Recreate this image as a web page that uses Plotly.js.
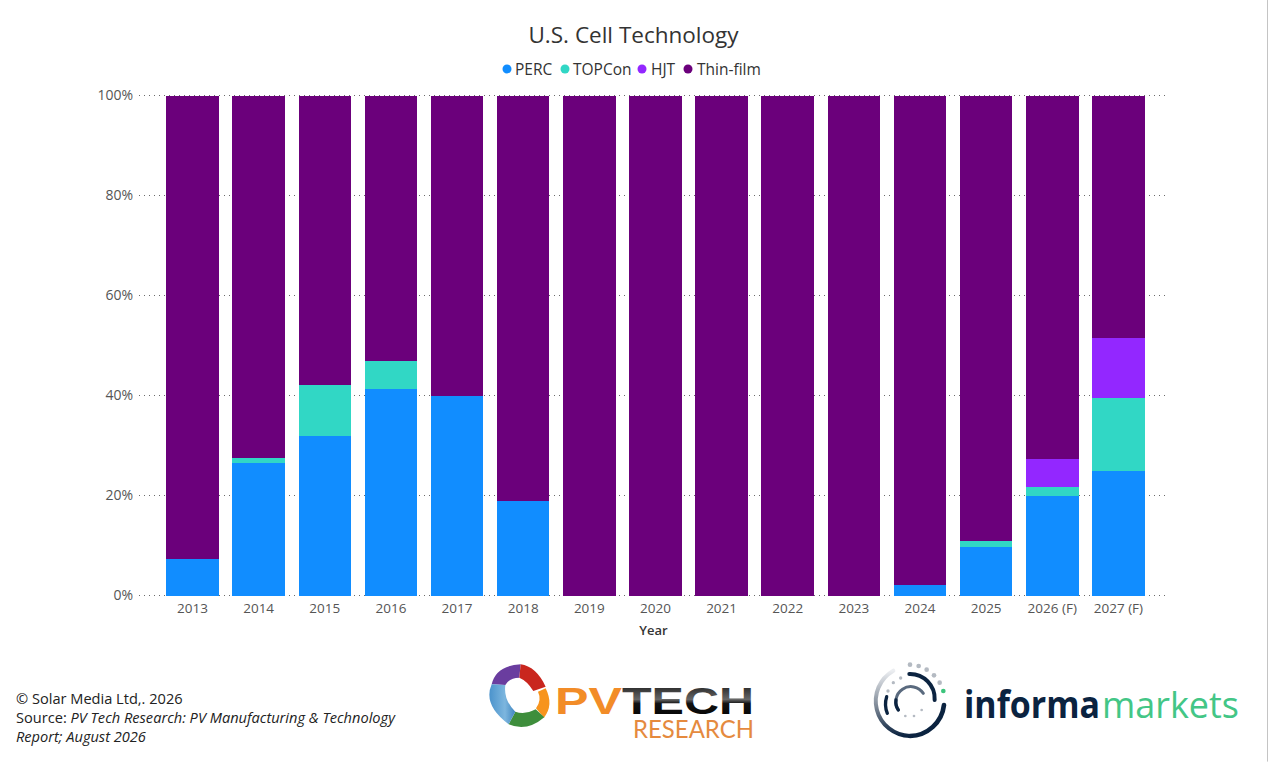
<!DOCTYPE html>
<html>
<head>
<meta charset="utf-8">
<script src="https://cdn.plot.ly/plotly-3.0.1.min.js"></script>
<style>
html,body{margin:0;padding:0;background:#fff;width:1268px;height:762px;overflow:hidden}
#chart{position:absolute;left:0;top:0;width:1268px;height:762px}
#logos{position:absolute;left:0;top:0;pointer-events:none}
</style>
</head>
<body>
<div id="chart"></div>
<svg id="logos" width="1268" height="762" viewBox="0 0 1268 762">
  <defs>
    <linearGradient id="tech" x1="0" y1="0" x2="0" y2="1">
      <stop offset="0" stop-color="#111"/><stop offset=".45" stop-color="#666"/><stop offset=".55" stop-color="#111"/><stop offset="1" stop-color="#000"/>
    </linearGradient>
    <linearGradient id="greyarc" x1="0" y1="1" x2="0" y2="0">
      <stop offset="0" stop-color="#0b2340"/><stop offset=".45" stop-color="#7d8896"/><stop offset="1" stop-color="#eceef1"/>
    </linearGradient>
    <linearGradient id="bluefade" x1="0" y1="0" x2="1" y2="0">
      <stop offset="0" stop-color="#4b93cc"/><stop offset=".6" stop-color="#7db6de"/><stop offset="1" stop-color="#3f86c0"/>
    </linearGradient>
  </defs>
  <g transform="translate(480 655) scale(.3333)">
    <path fill="#6a3d9f" d="M35 88 Q48 32 122 28 L118 68 Q88 68 76 90 Z"/>
    <path fill="#c9261e" d="M122 28 Q168 34 197 95 L160 108 Q142 78 118 68 Z"/>
    <path fill="#f7941d" d="M197 100 Q222 150 192 188 L168 160 Q186 135 174 110 Z"/>
    <path fill="#3e8e3c" d="M86 208 Q140 232 193 187 L167 163 Q135 180 106 170 Z"/>
    <path fill="url(#bluefade)" d="M35 88 Q8 150 86 208 L106 170 Q70 135 76 90 Z"/>
  </g>
  <text x="555" y="714" font-family="Liberation Sans" font-weight="700" font-size="36" fill="#f28c28" textLength="67" lengthAdjust="spacingAndGlyphs">PV</text>
  <text x="622" y="714" font-family="Liberation Sans" font-weight="700" font-size="36" fill="url(#tech)" textLength="132" lengthAdjust="spacingAndGlyphs">TECH</text>
  <text x="633" y="738" font-family="Lato" font-weight="400" font-size="25" fill="#e58a3e" textLength="121" lengthAdjust="spacingAndGlyphs">RESEARCH</text>

  <g transform="translate(860 650) scale(.3333)">
    <g fill="none" stroke-linecap="round">
      <path d="M150 258 A105 105 0 0 0 252 165" stroke="#0b2340" stroke-width="14"/>
      <path d="M150 258 A105 105 0 0 1 100 62" stroke="url(#greyarc)" stroke-width="12"/>
      <path d="M148 72 A74 74 0 0 1 224 150" stroke="#0b2340" stroke-width="12"/>
      <path d="M82 190 A74 74 0 0 1 80 140" stroke="#0b2340" stroke-width="10"/>
      <path d="M115 180 A42 42 0 0 1 190 130" stroke="#5a6a7e" stroke-width="9"/>
      <path d="M115 180 A42 42 0 0 1 108 150" stroke="#0b2340" stroke-width="10"/>
    </g>
    <g fill="#b4bac2">
      <circle cx="150" cy="44" r="7"/><circle cx="176" cy="48" r="7"/><circle cx="200" cy="59" r="7"/><circle cx="222" cy="76" r="7"/><circle cx="239" cy="98" r="7"/>
      <circle cx="122" cy="84" r="5"/><circle cx="100" cy="98" r="5"/><circle cx="84" cy="123" r="5"/>
      <circle cx="136" cy="198" r="4"/><circle cx="162" cy="198" r="4"/><circle cx="185" cy="180" r="4"/>
    </g>
    <circle cx="250" cy="123" r="7" fill="#3cc47c"/>
  </g>
  <text x="964" y="718" font-family="Open Sans" font-weight="700" font-size="37" fill="#0b2340" textLength="136" lengthAdjust="spacingAndGlyphs">informa</text>
  <text x="1102" y="718" font-family="Open Sans" font-weight="400" font-size="37" fill="#43c686" textLength="137" lengthAdjust="spacingAndGlyphs">markets</text>
</svg>
<script>
var years = ["2013","2014","2015","2016","2017","2018","2019","2020","2021","2022","2023","2024","2025","2026 (F)","2027 (F)"];
var perc     = [7.4,26.6,32.0,41.3,39.9,19.0,0,0,0,0,0,2.2,9.7,20.0,24.9];
var topcon   = [0,1.0,10.1,5.7,0,0,0,0,0,0,0,0,1.3,1.7,14.6];
var hjt      = [0,0,0,0,0,0,0,0,0,0,0,0,0,5.6,12.0];
var thinfilm = [92.6,72.4,57.9,53.0,60.1,81.0,100,100,100,100,100,97.8,89.0,72.7,48.5];
var seriesNames = ["PERC","TOPCon","HJT","Thin-film"];
var seriesColors = ["#118DFF","#31D7C5","#9327FF","#6B007B"];
var seriesValues = [perc,topcon,hjt,thinfilm];
var tickValues = [0,20,40,60,80,100];
var tickLabels = ["0%","20%","40%","60%","80%","100%"];
var footerLines = ["© Solar Media Ltd,. 2026","Source: <i>PV Tech Research: PV Manufacturing &amp; Technology</i>","<i>Report; August 2026</i>"];

var W=1268,H=762,L=139,R=1168,T=93,B=598.3;
function px(x){return (x-L)/(R-L);}
function py(y){return (B-y)/(B-T);}

var traces = seriesNames.map(function(n,i){
  return {type:"bar",name:n,x:years,y:seriesValues[i],width:0.794,marker:{color:seriesColors[i],line:{width:0}},showlegend:false,
    hovertemplate:"%{x}<br>"+n+": %{y}%<extra></extra>"};
});

var legendMarkerX=[507,565,642,688], legendTextX=[515,573,651,697];
var annotations=[], shapes=[];
seriesNames.forEach(function(n,i){
  annotations.push({xref:"paper",yref:"paper",x:px(legendTextX[i]),y:py(68.5),xanchor:"left",yanchor:"middle",xshift:-2,text:n,showarrow:false,
    font:{family:"Open Sans",size:15.5,color:"#333"}});
  shapes.push({type:"circle",xref:"paper",yref:"paper",x0:px(legendMarkerX[i]-4.5),x1:px(legendMarkerX[i]+4.5),y0:py(73.5),y1:py(64.5),
    fillcolor:seriesColors[i],line:{width:0}});
});
var footerY=[698.5,717.5,736.5];
footerLines.forEach(function(t,i){
  annotations.push({xref:"paper",yref:"paper",x:px(16),y:py(footerY[i]),xanchor:"left",yanchor:"middle",xshift:-2,text:t,showarrow:false,
    font:{family:"Open Sans",size:14.6,color:"#222"}});
});
shapes.push({type:"line",xref:"paper",yref:"paper",x0:px(1267.5),x1:px(1267.5),y0:py(0),y1:py(762),line:{color:"#c4c4c4",width:1}});

var layout={
  width:W,height:H,
  paper_bgcolor:"#fff",plot_bgcolor:"#fff",
  margin:{l:L,r:W-R,t:T,b:H-B,pad:0},
  barmode:"stack",
  showlegend:false,
  title:{text:"U.S. Cell Technology",x:633.5/W,xanchor:"center",y:1-35/H,yanchor:"middle",font:{family:"Open Sans",size:22.5,weight:500,color:"#333"}},
  xaxis:{type:"category",categoryorder:"array",categoryarray:years,range:[-0.809,14.75],showgrid:false,zeroline:false,showline:false,ticks:"",
    tickfont:{family:"Open Sans",size:13.5,color:"#555"},
    title:{text:"Year",standoff:10,font:{family:"Open Sans",size:13,weight:600,color:"#333"}},automargin:false},
  yaxis:{range:[-0.5,100.5],tickmode:"array",tickvals:tickValues,ticktext:tickLabels,ticklabelstandoff:5,zeroline:false,showline:false,ticks:"",
    showgrid:true,gridcolor:"#6a6a6a",gridwidth:1,griddash:"1px,4px",
    tickfont:{family:"Open Sans",size:14,color:"#555"},automargin:false},
  annotations:annotations,shapes:shapes
};
Plotly.newPlot("chart",traces,layout,{displayModeBar:false});
</script>
</body>
</html>
